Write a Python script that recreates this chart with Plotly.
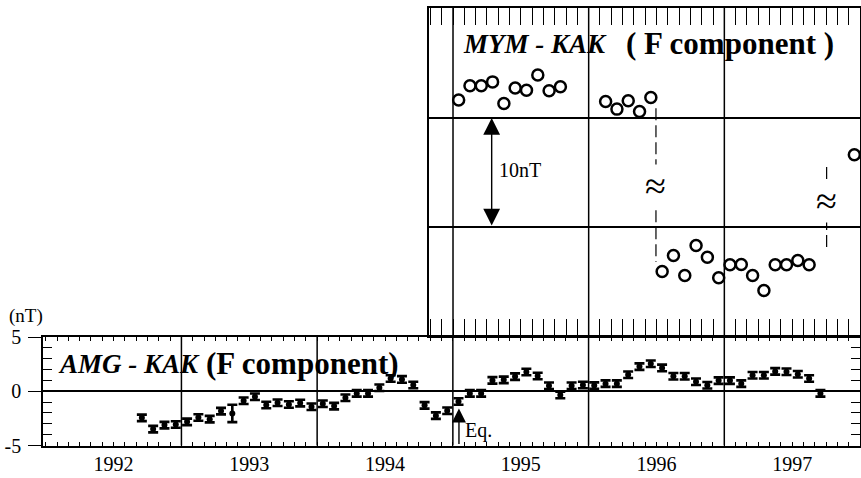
import plotly.graph_objects as go

# ---------------- data ----------------
# AMG - KAK monthly means (nT), Sep 1992 .. Sep 1997
amg_start_year = 1992
amg_start_month = 9
amg_values = [
    -2.45, -3.49, -3.12, -3.07,                                              # Sep-Dec 1992
    -2.82, -2.42, -2.57, -1.83, -2.05, -0.88, -0.51, -1.27, -1.06, -1.22, -1.09, -1.43,  # 1993
    -1.15, -1.37, -0.60, -0.20, -0.20, 0.32, 1.18, 1.09, 0.57, -1.30, -2.25, -1.80,      # 1994
    -0.95, -0.20, -0.20, 1.00, 1.05, 1.35, 1.78, 1.40, 0.50, -0.35, 0.50, 0.57,          # 1995
    0.52, 0.70, 0.70, 1.52, 2.27, 2.53, 2.15, 1.38, 1.38, 0.88, 0.55, 0.98,              # 1996
    0.98, 0.70, 1.48, 1.48, 1.83, 1.80, 1.57, 1.18, -0.20,                               # Jan-Sep 1997
]
amg_errors = [
    0.3, 0.3, 0.3, 0.3,
    0.3, 0.3, 0.3, 0.3, 0.8, 0.3, 0.3, 0.3, 0.3, 0.3, 0.3, 0.3,
    0.3, 0.3, 0.3, 0.3, 0.3, 0.3, 0.3, 0.3, 0.3, 0.3, 0.3, 0.3,
    0.3, 0.3, 0.3, 0.3, 0.3, 0.3, 0.3, 0.3, 0.3, 0.3, 0.3, 0.3,
    0.3, 0.3, 0.3, 0.3, 0.3, 0.3, 0.3, 0.3, 0.3, 0.3, 0.3, 0.3,
    0.3, 0.3, 0.3, 0.3, 0.3, 0.3, 0.3, 0.3, 0.3,
]

# MYM - KAK monthly means (nT, as plotted with offset breaks)
mym_months = [
    "1995-01", "1995-02", "1995-03", "1995-04", "1995-05", "1995-06", "1995-07", "1995-08", "1995-09", "1995-10",
    "1996-02", "1996-03", "1996-04", "1996-05", "1996-06",
    "1996-07", "1996-08", "1996-09", "1996-10", "1996-11", "1996-12",
    "1997-01", "1997-02", "1997-03", "1997-04", "1997-05", "1997-06", "1997-07", "1997-08",
    "1997-12",
]
mym_values = [
    11.65, 12.96, 12.96, 13.32, 11.34, 12.75, 12.56, 13.96, 12.50, 12.87,
    11.52, 10.82, 11.58, 10.60, 11.89,
    -4.08, -2.61, -4.44, -1.69, -2.77, -4.65,
    -3.46, -3.43, -4.44, -5.82, -3.46, -3.46, -3.07, -3.46,
    6.64,
]

year_labels = ["1992", "1993", "1994", "1995", "1996", "1997"]
year_lines_bottom = [1993, 1994, 1995, 1996, 1997]
year_lines_top = [1995, 1996, 1997]
eq_time = 1995.045  # earthquake, 17 Jan 1995

# ---------------- helpers ----------------
def mid_month(y, m):
    return y + (m - 0.5) / 12.0

amg_x = []
yy, mm = amg_start_year, amg_start_month
for _ in amg_values:
    amg_x.append(mid_month(yy, mm))
    mm += 1
    if mm > 12:
        mm = 1
        yy += 1

mym_x = [mid_month(int(s[:4]), int(s[5:])) for s in mym_months]

W, H = 861, 478
def px(x):
    return x / W
def py(y):
    return 1 - y / H

FONT = "Liberation Serif, DejaVu Serif, serif"

month_ticks = [1992 + k / 12.0 for k in range(0, 73)]
month_text = []
for k in range(0, 73):
    if k % 12 == 6:
        month_text.append(year_labels[k // 12] if k // 12 < len(year_labels) else "")
    else:
        month_text.append("")

fig = go.Figure()

fig.add_trace(go.Scatter(
    x=amg_x, y=amg_values, mode="markers",
    marker=dict(color="black", size=6),
    error_y=dict(type="data", array=amg_errors, color="black", thickness=2.6, width=5),
    xaxis="x", yaxis="y", showlegend=False, hoverinfo="skip",
))

fig.add_trace(go.Scatter(
    x=mym_x, y=mym_values, mode="markers",
    marker=dict(symbol="circle-open", size=11, color="black", line=dict(width=2.5, color="black")),
    xaxis="x2", yaxis="y2", showlegend=False, hoverinfo="skip",
))

shapes = []
for yl in year_lines_bottom:
    shapes.append(dict(type="line", xref="x", yref="y domain", x0=yl, x1=yl, y0=0, y1=1,
                       line=dict(color="black", width=1.5), layer="below"))
for yl in year_lines_top:
    shapes.append(dict(type="line", xref="x2", yref="y2 domain", x0=yl, x1=yl, y0=0, y1=1,
                       line=dict(color="black", width=1.5), layer="below"))

# dashed break lines with approx-equal signs
breaks = [
    dict(x=1996.496, top=10.9, bot=-3.2, sym=3.8),
    dict(x=1997.754, top=5.5, bot=-2.0, sym=2.35),
]
annotations = []
for b in breaks:
    shapes.append(dict(type="line", xref="x2", yref="y2", x0=b["x"], x1=b["x"], y0=b["top"], y1=b["bot"],
                       line=dict(color="black", width=1.2, dash="12px,5px"), layer="below"))
    annotations.append(dict(xref="x2", yref="y2", x=b["x"], y=b["sym"], text="≈", showarrow=False,
                            font=dict(family=FONT, size=38, color="black"),
                            bgcolor="white", borderpad=0, xanchor="center", yanchor="middle"))

annotations += [
    # top panel title
    dict(xref="paper", yref="paper", x=px(461), y=py(44), xanchor="left", yanchor="middle",
         text="<b><i>MYM - KAK</i></b>", showarrow=False,
         font=dict(family=FONT, size=27, color="black")),
    dict(xref="paper", yref="paper", x=px(624), y=py(43), xanchor="left", yanchor="middle",
         text="<b>(\u00a0F component\u00a0)</b>", showarrow=False,
         font=dict(family=FONT, size=31, color="black")),
    # bottom panel title
    dict(xref="paper", yref="paper", x=px(56), y=py(364), xanchor="left", yanchor="middle",
         text="<b><i>AMG - KAK</i></b>", showarrow=False,
         font=dict(family=FONT, size=27, color="black")),
    dict(xref="paper", yref="paper", x=px(204), y=py(363), xanchor="left", yanchor="middle",
         text="<b>(F component)</b>", showarrow=False,
         font=dict(family=FONT, size=31, color="black")),
    dict(xref="paper", yref="paper", x=px(497), y=py(170), xanchor="left", yanchor="middle",
         text="10nT", showarrow=False, font=dict(family=FONT, size=20, color="black")),
    dict(xref="paper", yref="paper", x=px(7), y=py(316), xanchor="left", yanchor="middle",
         text="(nT)", showarrow=False, font=dict(family=FONT, size=19, color="black")),
    dict(xref="paper", yref="paper", x=px(463), y=py(430), xanchor="left", yanchor="middle",
         text="Eq.", showarrow=False, font=dict(family=FONT, size=20, color="black")),
    # Eq. arrow
    dict(xref="x", yref="y", x=eq_time, y=-1.6, axref="x", ayref="y", ax=eq_time, ay=-5,
         text="", showarrow=True, arrowhead=2, arrowsize=2.0, arrowwidth=1.4, arrowcolor="black",
         standoff=0, startstandoff=0),
    # 10 nT scale arrow
    dict(xref="x2", yref="y2", x=1995.285, y=10, axref="x2", ayref="y2", ax=1995.285, ay=0,
         text="", showarrow=True, arrowhead=2, arrowside="end+start", arrowsize=2.4, arrowwidth=1.4,
         arrowcolor="black", standoff=0, startstandoff=0),
]

fig.update_layout(
    width=W, height=H,
    margin=dict(l=0, r=0, t=0, b=0, autoexpand=False),
    paper_bgcolor="white", plot_bgcolor="white",
    font=dict(family=FONT, color="black"),
    showlegend=False,
    xaxis=dict(
        domain=[px(43), px(860)], range=[1991.98, 1998.0], anchor="y", automargin=False,
        tickmode="array", tickvals=month_ticks, ticktext=month_text,
        ticks="inside", ticklen=4, tickwidth=1, tickcolor="black",
        showline=True, linecolor="black", linewidth=1.5, mirror="allticks",
        showgrid=False, zeroline=False,
        tickfont=dict(family=FONT, size=20, color="black"),
        ticklabelstandoff=0,
    ),
    yaxis=dict(
        domain=[py(445.5), py(337)], range=[-5, 5], anchor="x", automargin=False,
        tickmode="array", tickvals=[-5, 0, 5], ticktext=["-5", "0", "5"],
        ticks="outside", ticklen=13, tickwidth=1, tickcolor="black",
        minor=dict(tickmode="array", tickvals=[-4, -3, -2, -1, 1, 2, 3, 4], ticks="inside",
                   ticklen=9, tickwidth=1, tickcolor="black", showgrid=False),
        showline=True, linecolor="black", linewidth=1.5, mirror="allticks",
        showgrid=False, zeroline=True, zerolinecolor="black", zerolinewidth=1.5,
        tickfont=dict(family=FONT, size=20, color="black"),
        ticklabelstandoff=3,
    ),
    xaxis2=dict(
        domain=[px(429), px(860)], range=[1994.823, 1998.0], anchor="y2", automargin=False,
        tickmode="array", tickvals=month_ticks, showticklabels=False,
        ticks="inside", ticklen=17, tickwidth=1.4, tickcolor="black",
        showline=True, linecolor="black", linewidth=1.5, mirror="allticks",
        showgrid=False, zeroline=False,
    ),
    yaxis2=dict(
        domain=[py(336), py(8)], range=[-10, 20.1], anchor="x2", automargin=False,
        tickmode="array", tickvals=[0, 10], showticklabels=False, ticks="",
        showline=True, linecolor="black", linewidth=1.5, mirror=True,
        showgrid=True, gridcolor="black", gridwidth=1.5, zeroline=False,
    ),
    shapes=shapes,
    annotations=annotations,
)

fig.write_html("out.html")
